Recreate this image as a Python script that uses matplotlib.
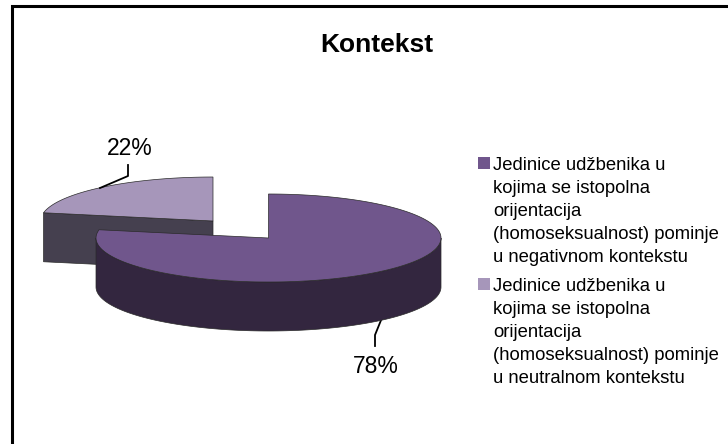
import numpy as np
import matplotlib
matplotlib.use('Agg')
import matplotlib.pyplot as plt
from matplotlib.patches import Polygon, Rectangle

plt.rcParams['font.family'] = ['Liberation Sans', 'DejaVu Sans']

########## DATA
title = 'Kontekst'
values = [78, 22]
value_labels = ['78%', '22%']
legend_labels = [
    'Jedinice udžbenika u\nkojima se istopolna\norijentacija\n(homoseksualnost) pominje\nu negativnom kontekstu',
    'Jedinice udžbenika u\nkojima se istopolna\norijentacija\n(homoseksualnost) pominje\nu neutralnom kontekstu',
]
top_colors = ['#70568c', '#a696ba']
side_colors = ['#33263f', '#45404f']
##############################################

fig = plt.figure(figsize=(7.28, 4.44), dpi=100)
ax = fig.add_axes([0, 0, 1, 1])
ax.set_xlim(0, 728)
ax.set_ylim(444, 0)
ax.axis('off')

rx, ry, depth = 172.5, 44, 49
centers = [(268.5, 238), (213, 221)]  # second slice is pulled out


def ell(c, deg):
    # clockwise from 12 o'clock
    t = np.radians(deg)
    return np.c_[c[0] + rx * np.sin(t), c[1] - ry * np.cos(t)]


fracs = np.cumsum([0] + values) / sum(values) * 360

# pulled out slice first, the big one sits in front of it
c = centers[1]
a, b = fracs[1], fracs[2]
rim = ell(c, np.linspace(a, b, 100))
apex = np.array([c])
face = np.vstack([rim[:1], apex, apex + [0, depth], rim[:1] + [0, depth]])
ax.add_patch(Polygon(face, fc=side_colors[1], ec='#2a2a2a', lw=0.5))
ax.add_patch(Polygon(np.vstack([apex, rim]), fc=top_colors[1], ec='#2a2a2a', lw=0.5))

c = centers[0]
a, b = fracs[0], fracs[1]
rim = ell(c, np.linspace(a, b, 300))
front = ell(c, np.linspace(90, 270, 200))
side = np.vstack([front, (front + [0, depth])[::-1]])
ax.add_patch(Polygon(np.vstack([[c], rim]), fc=top_colors[0], ec='#2a2a2a', lw=0.5, zorder=3))
ax.add_patch(Polygon(side, fc=side_colors[0], ec='#2a2a2a', lw=0.5, zorder=2))

# leader lines and value labels
ax.plot([381.5, 375, 375], [319, 335, 346], color='black', lw=1.3, zorder=1)
ax.plot([100, 128, 128], [188, 176, 165], color='black', lw=1.3, zorder=4)
ax.text(375.5, 366, value_labels[0], fontsize=16.5, ha='center', va='center')
ax.text(129.5, 148, value_labels[1], fontsize=16.5, ha='center', va='center')

ax.text(377, 45, title, fontsize=19, fontweight='bold', ha='center', va='center')

# legend
for lab, col, y in zip(legend_labels, top_colors, [157, 278]):
    ax.add_patch(Rectangle((478, y), 12, 12, fc=col, ec='none'))
    ax.text(493, y - 0.5, lab, fontsize=13.3, va='top', ha='left', linespacing=1.465)

# frame
ax.plot([11.7, 11.7, 728], [444, 6.5, 6.5], color='black', lw=2.2, solid_joinstyle='miter')

fig.savefig('out.png', dpi=100)
